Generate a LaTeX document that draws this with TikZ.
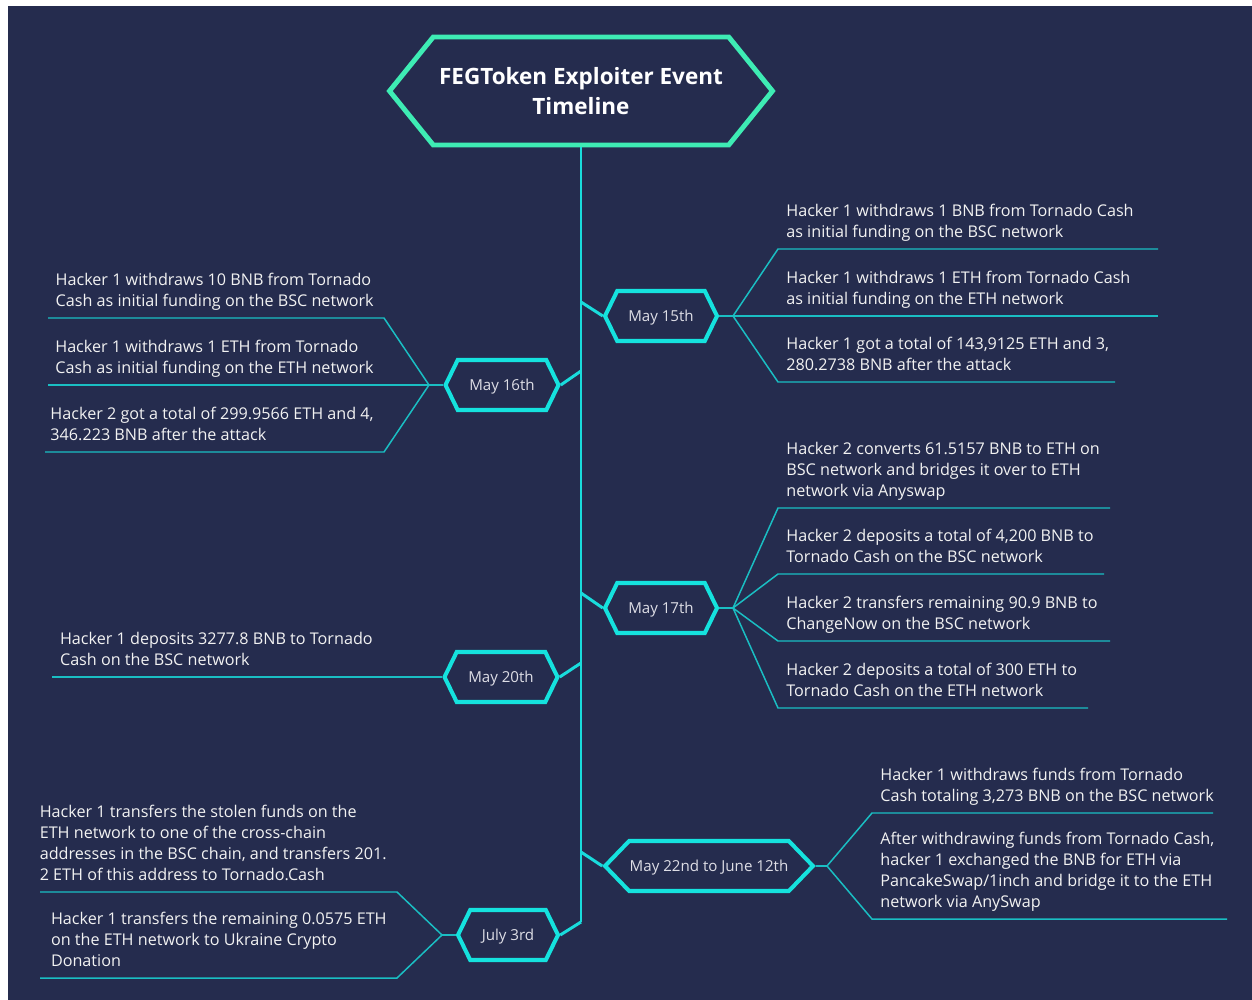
\documentclass[tikz,border=0pt]{standalone}
\usepackage{fontspec}
\setmainfont{Open Sans}
\usetikzlibrary{positioning,shapes.symbols}
\definecolor{navy}{HTML}{252C4E}
\definecolor{mint}{HTML}{3EECB4}
\definecolor{aqua}{HTML}{15E2DE}
\definecolor{spinec}{HTML}{19DCDC}
\definecolor{branchc}{HTML}{1ABEC3}
\definecolor{itemtxt}{HTML}{F2F2F2}
\definecolor{datetxt}{HTML}{DEDEE6}

\tikzset{
  titlebox/.style={signal,signal to=east and west,signal pointer angle=102,draw=mint,line width=2.8pt,
    minimum width=7.66cm,minimum height=2.16cm,inner sep=0pt,align=center,text=white,
    font=\fontsize{12.8pt}{16.8pt}\selectfont\bfseries},
  datebox/.style={signal,signal to=east and west,signal pointer angle=128,draw=aqua,line width=2.3pt,
    minimum height=1cm,inner sep=0pt,text depth=0pt,text=datetxt,font=\fontsize{8.6pt}{10pt}\selectfont},
  item/.style={align=left,text=itemtxt,inner ysep=0.22cm,text depth=0pt,
    font=\fontsize{9.2pt}{11.95pt}\selectfont},
  itemr/.style={item,anchor=south west,inner xsep=0.16cm},
  iteml/.style={item,anchor=south east,inner xsep=0.2cm},
  spine/.style={draw=spinec,line width=1.7pt},
  branch/.style={draw=branchc,line width=0.85pt}
}

\begin{document}
\begin{tikzpicture}[x=0.02cm,y=-0.02cm]
  \useasboundingbox (0,0) rectangle (1252,1000);
  \fill[white] (0,0) rectangle (1252,1000);
  \fill[navy] (8,6) rectangle (1252,1000);

  % title and spine
  \node[titlebox] (title) at (581,91) {FEGToken Exploiter Event\\Timeline};
  \coordinate (spineend) at (581,922);
  \draw[spine] (title.south) -- (spineend);

  % dates
  \node[datebox,minimum width=2.24cm] (may15) at (661,316) {May 15th};
  \node[datebox,minimum width=2.26cm] (may16) at (502,385) {May 16th};
  \node[datebox,minimum width=2.24cm] (may17) at (661,608) {May 17th};
  \node[datebox,minimum width=2.26cm] (may20) at (501,677) {May 20th};
  \node[datebox,minimum width=4.16cm,signal pointer angle=92] (may22) at (709,866) {May 22nd to June 12th};
  \node[datebox,minimum width=2cm] (july3) at (508,935) {July 3rd};

  \coordinate (j15) at (581,302);
  \coordinate (j16) at (581,371);
  \coordinate (j17) at (581,593);
  \coordinate (j20) at (581,663);
  \coordinate (j22) at (581,852);
  \draw[spine] (j15) -- (may15.west);
  \draw[spine] (j16) -- (may16.east);
  \draw[spine] (j17) -- (may17.west);
  \draw[spine] (j20) -- (may20.east);
  \draw[spine] (j22) -- (may22.west);
  \draw[spine] (spineend) -- (july3.east);

  % May 15th
  \coordinate (b15) at (733,316);
  \coordinate (e15a) at (1158,249);
  \coordinate (e15b) at (1158,316);
  \coordinate (e15c) at (1115,382);
  \node[itemr] (t15a) at (778,249) {Hacker 1 withdraws 1 BNB from Tornado Cash\\as initial funding on the BSC network};
  \node[itemr] (t15b) at (778,316) {Hacker 1 withdraws 1 ETH from Tornado Cash\\as initial funding on the ETH network};
  \node[itemr] (t15c) at (778,382) {Hacker 1 got a total of 143,9125 ETH and 3,\\280.2738 BNB after the attack};
  \draw[branch] (may15.east) -- (b15);
  \draw[branch] (b15) -- (t15a.south west) -- (e15a);
  \draw[branch] (b15) -- (t15b.south west) -- (e15b);
  \draw[branch] (b15) -- (t15c.south west) -- (e15c);

  % May 16th
  \coordinate (b16) at (429,385);
  \coordinate (e16a) at (48,318);
  \coordinate (e16b) at (48,385);
  \coordinate (e16c) at (45,452);
  \node[iteml] (t16a) at (384,318) {Hacker 1 withdraws 10 BNB from Tornado\\Cash as initial funding on the BSC network};
  \node[iteml] (t16b) at (384,385) {Hacker 1 withdraws 1 ETH from Tornado\\Cash as initial funding on the ETH network};
  \node[iteml] (t16c) at (384,452) {Hacker 2 got a total of 299.9566 ETH and 4,\\346.223 BNB after the attack};
  \draw[branch] (may16.west) -- (b16);
  \draw[branch] (b16) -- (t16a.south east) -- (e16a);
  \draw[branch] (b16) -- (t16b.south east) -- (e16b);
  \draw[branch] (b16) -- (t16c.south east) -- (e16c);

  % May 17th
  \coordinate (b17) at (733,608);
  \coordinate (e17a) at (1110,508);
  \coordinate (e17b) at (1104,574);
  \coordinate (e17c) at (1110,641);
  \coordinate (e17d) at (1088,708);
  \node[itemr] (t17a) at (778,508) {Hacker 2 converts 61.5157 BNB to ETH on\\BSC network and bridges it over to ETH\\network via Anyswap};
  \node[itemr] (t17b) at (778,574) {Hacker 2 deposits a total of 4,200 BNB to\\Tornado Cash on the BSC network};
  \node[itemr] (t17c) at (778,641) {Hacker 2 transfers remaining 90.9 BNB to\\ChangeNow on the BSC network};
  \node[itemr] (t17d) at (778,708) {Hacker 2 deposits a total of 300 ETH to\\Tornado Cash on the ETH network};
  \draw[branch] (may17.east) -- (b17);
  \draw[branch] (b17) -- (t17a.south west) -- (e17a);
  \draw[branch] (b17) -- (t17b.south west) -- (e17b);
  \draw[branch] (b17) -- (t17c.south west) -- (e17c);
  \draw[branch] (b17) -- (t17d.south west) -- (e17d);

  % May 20th
  \coordinate (e20a) at (52,677);
  \node[iteml] (t20a) at (383,677) {Hacker 1 deposits 3277.8 BNB to Tornado\\Cash on the BSC network};
  \draw[branch] (may20.west) -- (t20a.south east) -- (e20a);

  % May 22nd to June 12th
  \coordinate (b22) at (827,866);
  \coordinate (e22a) at (1213,813);
  \coordinate (e22b) at (1227,919);
  \node[itemr] (t22a) at (872,813) {Hacker 1 withdraws funds from Tornado\\Cash totaling 3,273 BNB on the BSC network};
  \node[itemr] (t22b) at (872,919) {After withdrawing funds from Tornado Cash,\\hacker 1 exchanged the BNB for ETH via\\PancakeSwap/1inch and bridge it to the ETH\\network via AnySwap};
  \draw[branch] (may22.east) -- (b22);
  \draw[branch] (b22) -- (t22a.south west) -- (e22a);
  \draw[branch] (b22) -- (t22b.south west) -- (e22b);

  % July 3rd
  \coordinate (b3) at (442,935);
  \coordinate (e3a) at (40,892);
  \coordinate (e3b) at (40,978);
  \node[iteml] (t3a) at (397,892) {Hacker 1 transfers the stolen funds on the\\ETH network to one of the cross-chain\\addresses in the BSC chain, and transfers 201.\\2 ETH of this address to Tornado.Cash};
  \node[iteml] (t3b) at (397,978) {Hacker 1 transfers the remaining 0.0575 ETH\\on the ETH network to Ukraine Crypto\\Donation};
  \draw[branch] (july3.west) -- (b3);
  \draw[branch] (b3) -- (t3a.south east) -- (e3a);
  \draw[branch] (b3) -- (t3b.south east) -- (e3b);
\end{tikzpicture}
\end{document}
